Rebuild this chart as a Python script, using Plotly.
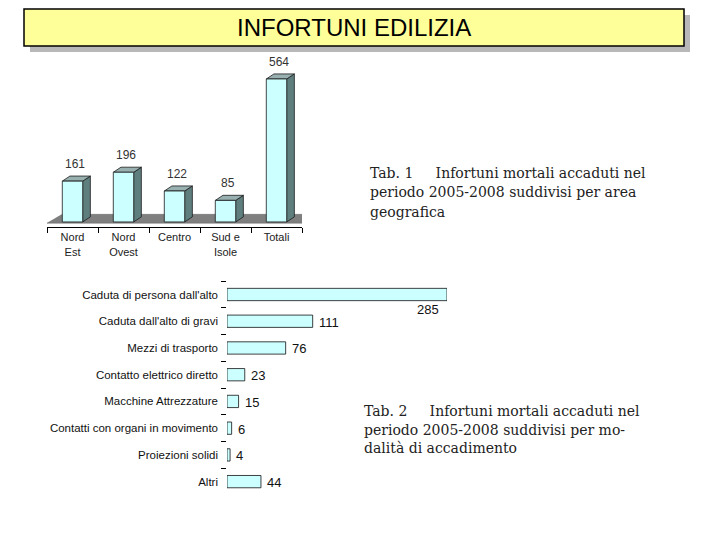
import plotly.graph_objects as go

# ---------------- data ----------------
area_labels = ["Nord<br>Est", "Nord<br>Ovest", "Centro", "Sud e<br>Isole", "Totali"]
area_values = [161, 196, 122, 85, 564]

cause_labels = ["Caduta di persona dall'alto", "Caduta dall'alto di gravi", "Mezzi di trasporto",
                "Contatto elettrico diretto", "Macchine Attrezzature",
                "Contatti con organi in movimento", "Proiezioni solidi", "Altri"]
cause_values = [285, 111, 76, 23, 15, 6, 4, 44]

title_text = "INFORTUNI EDILIZIA"
caption1 = ["Tab.\u00a01\u00a0\u00a0\u00a0\u00a0\u00a0Infortuni mortali accaduti nel",
            "periodo 2005-2008 suddivisi per area",
            "geografica"]
caption2 = ["Tab.\u00a02\u00a0\u00a0\u00a0\u00a0\u00a0Infortuni mortali accaduti nel",
            "periodo 2005-2008 suddivisi per mo-",
            "dalità di accadimento"]

W, H = 720, 540
fig = go.Figure()

# ---------------- 3D column chart (top) ----------------
n = len(area_values)
centers = list(range(n))
hw = 0.2          # half bar width (category units)
dx, dy = 0.15, 20  # 3D depth offset (category units, value units)
fdx, fdy = 0.30, 35  # floor depth
ffront = -5

# floor
fig.add_trace(go.Scatter(
    x=[-0.5, n - 0.5, n - 0.5 + fdx, -0.5 + fdx, -0.5],
    y=[ffront, ffront, ffront + fdy, ffront + fdy, ffront],
    mode="lines", fill="toself", fillcolor="#7f7f7f",
    line=dict(color="#666666", width=0.5), hoverinfo="skip", showlegend=False,
    xaxis="x", yaxis="y"))

side_x, side_y, top_x, top_y, front_x, front_y = [], [], [], [], [], []
for c, v in zip(centers, area_values):
    side_x += [c + hw, c + hw, c + hw + dx, c + hw + dx, c + hw, None]
    side_y += [0, v, v + dy, dy, 0, None]
    top_x += [c - hw, c + hw, c + hw + dx, c - hw + dx, c - hw, None]
    top_y += [v, v, v + dy, v + dy, v, None]
    front_x += [c - hw, c + hw, c + hw, c - hw, c - hw, None]
    front_y += [0, 0, v, v, 0, None]

for xs, ys, col in [(side_x, side_y, "#5f7f7f"), (top_x, top_y, "#98b0b0"),
                    (front_x, front_y, "#ccffff")]:
    fig.add_trace(go.Scatter(x=xs, y=ys, mode="lines", fill="toself", fillcolor=col,
                             line=dict(color="#1a1a1a", width=0.8), connectgaps=False,
                             hoverinfo="skip", showlegend=False, xaxis="x", yaxis="y"))

annotations = []
for c, v in zip(centers, area_values):
    annotations.append(dict(x=c + 0.05, y=v + dy, xref="x", yref="y", text=str(v),
                            showarrow=False, yanchor="bottom", yshift=3,
                            font=dict(family="Arial", size=12, color="#333333")))

# ---------------- horizontal bar chart (bottom) ----------------
fig.add_trace(go.Bar(
    x=cause_values, y=cause_labels, orientation="h", width=0.46,
    marker=dict(color="#ccffff", line=dict(color="#111111", width=0.8)),
    hoverinfo="skip", showlegend=False, xaxis="x2", yaxis="y2", cliponaxis=False))

vmax = max(cause_values)
for lab, v in zip(cause_labels, cause_values):
    if v == vmax:
        annotations.append(dict(x=v, y=lab, xref="x2", yref="y2", text=str(v), showarrow=False,
                                xanchor="right", xshift=-6, yshift=-15,
                                font=dict(family="Arial", size=13, color="#111111")))
    else:
        annotations.append(dict(x=v, y=lab, xref="x2", yref="y2", text=str(v), showarrow=False,
                                xanchor="left", xshift=4, yshift=-1,
                                font=dict(family="Arial", size=13, color="#111111")))

# ---------------- title box ----------------
shapes = [
    dict(type="rect", xref="paper", yref="paper", x0=30 / W, x1=690 / W,
         y0=1 - 52 / H, y1=1 - 15 / H, fillcolor="#b8b8b8", line=dict(width=0), layer="below"),
    dict(type="rect", xref="paper", yref="paper", x0=24 / W, x1=684 / W,
         y0=1 - 46 / H, y1=1 - 9 / H, fillcolor="#ffff99", line=dict(color="black", width=1.5),
         layer="below"),
]
annotations.append(dict(x=354 / W, y=1 - 28 / H, xref="paper", yref="paper", text=title_text,
                        showarrow=False, xanchor="center", yanchor="middle",
                        font=dict(family="Arial", size=24, color="black")))

# ---------------- captions ----------------
for i, line in enumerate(caption1):
    annotations.append(dict(x=368 / W, y=1 - (173 + 19.5 * i) / H, xref="paper", yref="paper",
                            text=line, showarrow=False, xanchor="left", yanchor="middle",
                            font=dict(family="DejaVu Serif", size=14, color="#222222")))
for i, line in enumerate(caption2):
    annotations.append(dict(x=362 / W, y=1 - (411 + 18.5 * i) / H, xref="paper", yref="paper",
                            text=line, showarrow=False, xanchor="left", yanchor="middle",
                            font=dict(family="DejaVu Serif", size=14, color="#222222")))

fig.update_layout(
    width=W, height=H, margin=dict(l=0, r=0, t=0, b=0),
    paper_bgcolor="white", plot_bgcolor="rgba(0,0,0,0)",
    shapes=shapes, annotations=annotations, showlegend=False,
    xaxis=dict(domain=[47 / W, 302 / W], range=[-0.5, n - 0.5], anchor="y",
               tickvals=centers, ticktext=area_labels, ticks="", showline=True,
               linecolor="black", linewidth=1, showgrid=False, zeroline=False,
               tickfont=dict(family="Arial", size=11, color="#222222"),
               minor=dict(tickvals=[c - 0.5 for c in range(n + 1)], ticks="outside",
                          ticklen=5, tickcolor="black", showgrid=False),
               fixedrange=True),
    yaxis=dict(domain=[1 - 227 / H, 1 - 64.8 / H], range=[-20, 620], visible=False,
               anchor="x", fixedrange=True),
    xaxis2=dict(domain=[227 / W, 447 / W], range=[0, 285], visible=False, anchor="y2",
                fixedrange=True),
    yaxis2=dict(domain=[1 - 495 / H, 1 - 270 / H], type="category", autorange="reversed",
                tickson="boundaries", ticks="outside", ticklen=5, tickcolor="black",
                ticklabelstandoff=8,
                showline=False, showgrid=False, zeroline=False, anchor="x2",
                tickfont=dict(family="Arial", size=11.5, color="#111111"), fixedrange=True),
    bargap=0.54,
)

fig.write_html("out.html", config={"displayModeBar": False},
               post_script="document.body.style.margin='0px';")
